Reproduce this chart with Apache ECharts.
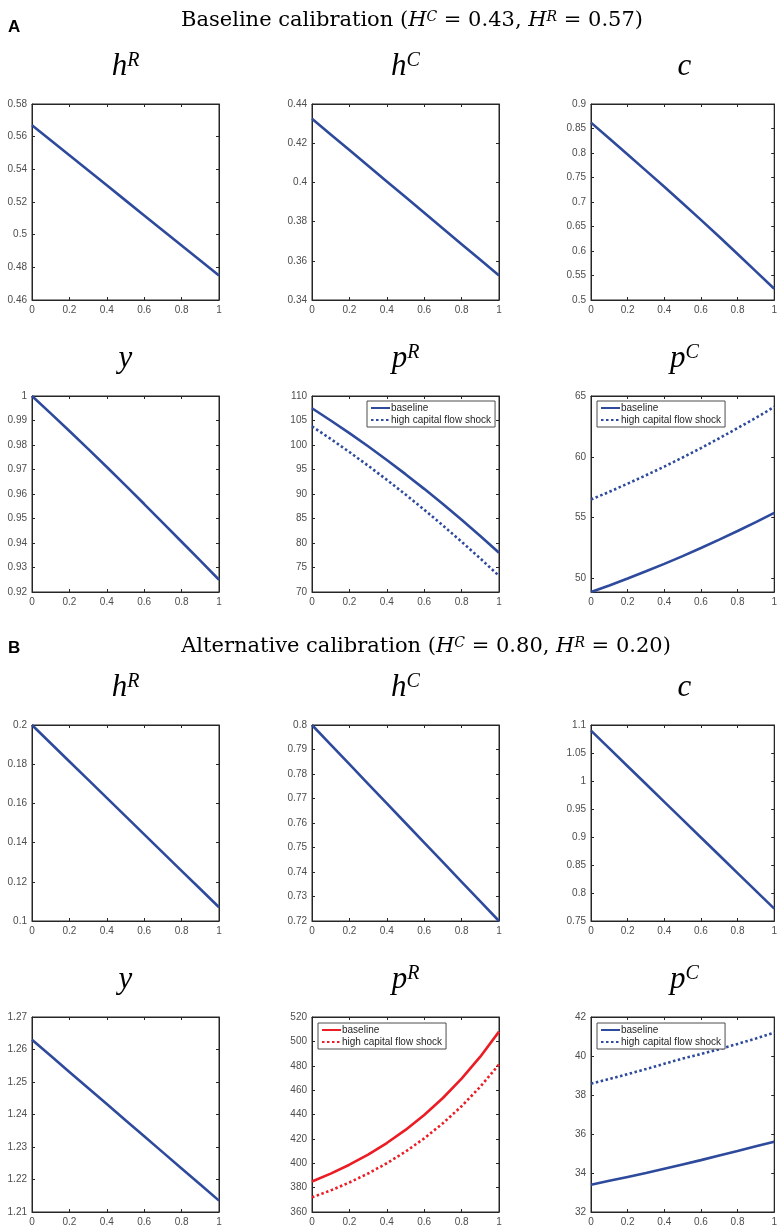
<!DOCTYPE html>
<html>
<head>
<meta charset="utf-8">
<script src="https://cdn.jsdelivr.net/npm/echarts@6/dist/echarts.min.js"></script>
<style>
  html, body { margin: 0; padding: 0; background: #fff; }
  #main { width: 780px; height: 1227px; }
</style>
</head>
<body>
<div id="main"></div>
<script>
// x grid shared by every panel
var xs = [0, 0.1, 0.2, 0.3, 0.4, 0.5, 0.6, 0.7, 0.8, 0.9, 1];

// A: baseline calibration
var aHR = [0.567, 0.5578, 0.5486, 0.5394, 0.5302, 0.521, 0.5118, 0.5026, 0.4934, 0.4842, 0.475];
var aHC = [0.4325, 0.4245, 0.4165, 0.4085, 0.4005, 0.3925, 0.3845, 0.3765, 0.3685, 0.3605, 0.3525];
var aC = [0.862, 0.8295, 0.797, 0.764, 0.731, 0.6975, 0.6635, 0.629, 0.594, 0.5585, 0.523];
var aY = [1, 0.9929, 0.9857, 0.9784, 0.971, 0.9635, 0.9559, 0.9482, 0.9405, 0.9328, 0.925];
var aPRBase = [107.5, 105.0, 102.43, 99.74, 96.95, 94.05, 91.05, 87.94, 84.73, 81.42, 78.0];
var aPRShock = [103.8, 101.24, 98.56, 95.78, 92.9, 89.9, 86.8, 83.58, 80.26, 76.84, 73.3];
var aPCBase = [48.9, 49.44, 50.01, 50.6, 51.21, 51.85, 52.51, 53.2, 53.91, 54.64, 55.4];
var aPCShock = [56.5, 57.13, 57.8, 58.49, 59.2, 59.95, 60.72, 61.53, 62.36, 63.21, 64.1];

// B: alternative calibration
var bHR = [0.2, 0.1907, 0.1814, 0.1721, 0.1628, 0.1535, 0.1442, 0.1349, 0.1256, 0.1163, 0.107];
var bHC = [0.8, 0.792, 0.784, 0.776, 0.768, 0.76, 0.752, 0.744, 0.736, 0.728, 0.72];
var bC = [1.09, 1.0582, 1.0264, 0.9946, 0.9628, 0.931, 0.8992, 0.8674, 0.8356, 0.8038, 0.772];
var bY = [1.263, 1.25805, 1.2531, 1.24815, 1.2432, 1.23825, 1.2333, 1.22835, 1.2234, 1.21845, 1.2135];
var bPRBase = [385, 391.45, 398.8, 407.15, 416.6, 427.35, 439.6, 453.55, 469.4, 487.45, 508];
var bPRShock = [372, 377.7, 384.2, 391.6, 400.0, 409.5, 420.4, 432.8, 446.8, 462.8, 481];
var bPCBase = [33.4, 33.6, 33.8, 34.0, 34.22, 34.44, 34.66, 34.9, 35.13, 35.37, 35.6];
var bPCShock = [38.58, 38.82, 39.07, 39.33, 39.6, 39.87, 40.1, 40.35, 40.62, 40.9, 41.2];

var legendNames = ['baseline', 'high capital flow shock'];

var BLUE = '#2e4a9c', RED = '#ec1c24';
var colLeft = [32, 312, 591];
var rowTop = [104, 396, 725, 1017];
var plotW = 187, plotH = 196;

var panels = [
  { r: 0, c: 0, title: '{i|h}{s|R}', min: 0.46, max: 0.58, step: 0.02, base: aHR },
  { r: 0, c: 1, title: '{i|h}{s|C}', min: 0.34, max: 0.44, step: 0.02, base: aHC },
  { r: 0, c: 2, title: '{i|c}', min: 0.5, max: 0.9, step: 0.05, base: aC },
  { r: 1, c: 0, title: '{i|y}', min: 0.92, max: 1, step: 0.01, base: aY },
  { r: 1, c: 1, title: '{i|p}{s|R}', min: 70, max: 110, step: 5, base: aPRBase, shock: aPRShock, legend: [367, 401] },
  { r: 1, c: 2, title: '{i|p}{s|C}', min: 48.9, max: 65, ticks: [50, 55, 60, 65], base: aPCBase, shock: aPCShock, legend: [597, 401] },
  { r: 2, c: 0, title: '{i|h}{s|R}', min: 0.1, max: 0.2, step: 0.02, base: bHR },
  { r: 2, c: 1, title: '{i|h}{s|C}', min: 0.72, max: 0.8, step: 0.01, base: bHC },
  { r: 2, c: 2, title: '{i|c}', min: 0.75, max: 1.1, step: 0.05, base: bC },
  { r: 3, c: 0, title: '{i|y}', min: 1.21, max: 1.27, step: 0.01, base: bY },
  { r: 3, c: 1, title: '{i|p}{s|R}', min: 360, max: 520, step: 20, base: bPRBase, shock: bPRShock, legend: [318, 1023], color: RED },
  { r: 3, c: 2, title: '{i|p}{s|C}', min: 32, max: 42, step: 2, base: bPCBase, shock: bPCShock, legend: [597, 1023] }
];

var axisColor = '#262626';
var labelStyle = { color: '#4d4d4d', fontSize: 10, fontFamily: 'Liberation Sans, Arial, sans-serif' };
var titleRich = {
  i: { fontFamily: 'Liberation Serif, serif', fontStyle: 'italic', fontWeight: 'normal', fontSize: 31, color: '#000' },
  s: { fontFamily: 'Liberation Serif, serif', fontStyle: 'italic', fontWeight: 'normal', fontSize: 20, color: '#000', verticalAlign: 'top' }
};

function makeAxis(kind, gi, pos, showLabel, p) {
  var ax = {
    type: 'value',
    gridIndex: gi,
    position: pos,
    axisLine: { show: true, onZero: false, lineStyle: { color: axisColor, width: 1 } },
    axisTick: { show: true, inside: true, length: 3, lineStyle: { color: axisColor } },
    axisLabel: Object.assign({ show: showLabel, margin: 5 }, labelStyle),
    splitLine: { show: false }
  };
  if (kind === 'x') {
    ax.min = 0; ax.max = 1; ax.interval = 0.2;
  } else {
    ax.min = p.min; ax.max = p.max;
    if (p.ticks) {
      ax.axisTick.customValues = p.ticks;
      ax.axisLabel.customValues = p.ticks;
    } else {
      ax.interval = p.step;
    }
  }
  return ax;
}

function pairs(vals) {
  return xs.map(function (x, k) { return [x, vals[k]]; });
}

var grids = [], xAxes = [], yAxes = [], series = [], titles = [], legends = [];

var letterStyle = { fontFamily: 'Liberation Sans, Arial', fontWeight: 'bold', fontSize: 17, color: '#000' };
titles.push({ text: 'A', left: 8, top: 19, padding: 0, textStyle: letterStyle });
titles.push({ text: 'B', left: 8, top: 640, padding: 0, textStyle: letterStyle });

var secRich = {
  t: { fontFamily: 'DejaVu Serif, serif', fontWeight: 'normal', fontSize: 21, color: '#000' },
  i: { fontFamily: 'DejaVu Serif, serif', fontStyle: 'italic', fontWeight: 'normal', fontSize: 21, color: '#000' },
  s: { fontFamily: 'DejaVu Serif, serif', fontStyle: 'italic', fontWeight: 'normal', fontSize: 14, color: '#000', verticalAlign: 'top' }
};
titles.push({ text: '{t|Baseline calibration (}{i|H}{s|C}{t| = 0.43, }{i|H}{s|R}{t| = 0.57)}', left: 412, top: 10, padding: 0, textAlign: 'center', textStyle: { fontWeight: 'normal', rich: secRich } });
titles.push({ text: '{t|Alternative calibration (}{i|H}{s|C}{t| = 0.80, }{i|H}{s|R}{t| = 0.20)}', left: 426, top: 636, padding: 0, textAlign: 'center', textStyle: { fontWeight: 'normal', rich: secRich } });

panels.forEach(function (p, i) {
  var left = colLeft[p.c], top = rowTop[p.r];
  var color = p.color || BLUE;
  grids.push({ left: left, top: top, width: plotW, height: plotH, show: true, borderColor: axisColor, borderWidth: 1, backgroundColor: '#fff' });
  xAxes.push(makeAxis('x', i, 'bottom', true, p));
  xAxes.push(makeAxis('x', i, 'top', false, p));
  yAxes.push(makeAxis('y', i, 'left', true, p));
  yAxes.push(makeAxis('y', i, 'right', false, p));

  titles.push({ text: p.title, left: left + plotW / 2, top: top - 53, padding: 0, textAlign: 'center', textStyle: { fontWeight: 'normal', rich: titleRich } });

  var lineCommon = { type: 'line', xAxisIndex: 2 * i, yAxisIndex: 2 * i, symbol: 'none', showSymbol: false, smooth: false, z: 3 };
  series.push(Object.assign({}, lineCommon, {
    name: 'p' + i + '|' + legendNames[0],
    data: pairs(p.base),
    lineStyle: { color: color, width: 2.6 },
    itemStyle: { color: color }
  }));
  if (p.shock) {
    series.push(Object.assign({}, lineCommon, {
      name: 'p' + i + '|' + legendNames[1],
      data: pairs(p.shock),
      lineStyle: { color: color, width: 2.6, type: [2.5, 2.5] },
      itemStyle: { color: color }
    }));
    legends.push({
      left: p.legend[0], top: p.legend[1],
      orient: 'vertical',
      data: ['p' + i + '|' + legendNames[0], 'p' + i + '|' + legendNames[1]],
      formatter: function (name) { return name.split('|')[1]; },
      itemWidth: 19, itemHeight: 10, itemGap: 2,
      padding: [2, 4, 2, 3],
      itemStyle: { opacity: 0 },
      borderColor: '#4d4d4d', borderWidth: 1, backgroundColor: '#fff',
      selectedMode: false,
      textStyle: { fontSize: 10, color: '#262626', fontFamily: 'Liberation Sans, Arial, sans-serif', padding: [0, 0, 0, -4] }
    });
  }
});

var myChart = echarts.init(document.getElementById('main'), null, { renderer: 'canvas' });
myChart.setOption({
  animation: false,
  backgroundColor: '#fff',
  title: titles,
  legend: legends,
  grid: grids,
  xAxis: xAxes,
  yAxis: yAxes,
  series: series
});
</script>
</body>
</html>
